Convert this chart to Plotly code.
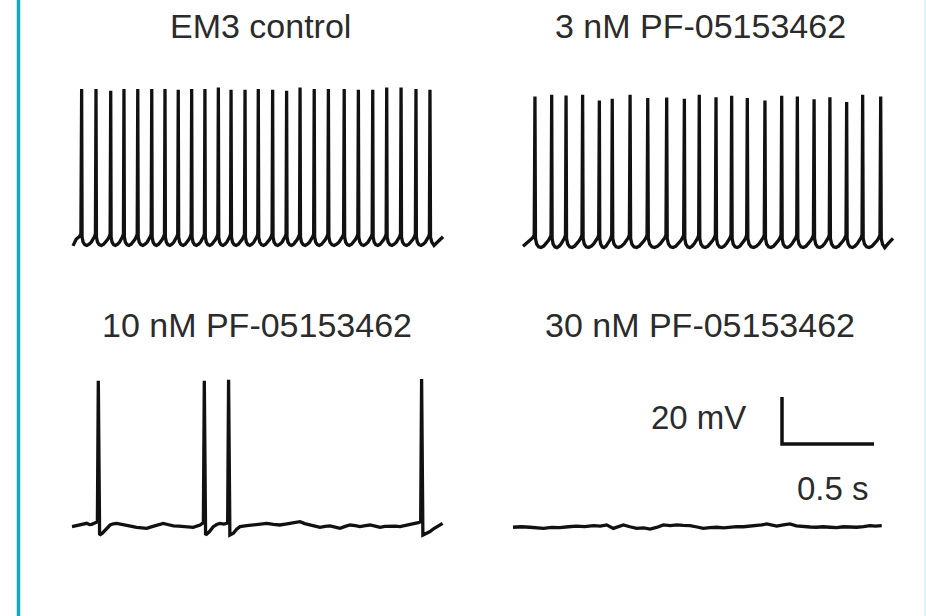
import plotly.graph_objects as go

# ---------------- data (time in s, membrane potential in mV re. rest) ----------------
ctrl_spike_t = [0.047, 0.125, 0.205, 0.277, 0.352, 0.428, 0.500, 0.572, 0.645, 0.717,
                0.790, 0.859, 0.935, 1.007, 1.085, 1.161, 1.234, 1.311, 1.388, 1.474,
                1.551, 1.629, 1.705, 1.783, 1.864, 1.940]
ctrl_spike_mv = [64.3, 64.3, 63.5, 64.3, 64.3, 64.3, 64.3, 63.9, 64.3, 64.3,
                 64.9, 63.9, 63.9, 64.3, 63.9, 63.5, 64.9, 64.3, 64.3, 64.3,
                 63.9, 63.9, 64.9, 64.9, 64.3, 63.9]
ctrl_isi_mv = [1.2, -0.9, -2.0, -2.3, -1.8, -0.9, 0.3, 1.5, 2.6]

pf3_spike_t = [0.065, 0.156, 0.234, 0.324, 0.415, 0.485, 0.582, 0.678, 0.781, 0.877,
               0.958, 1.049, 1.134, 1.219, 1.315, 1.406, 1.491, 1.582, 1.668, 1.759,
               1.846, 1.944]
pf3_spike_mv = [61.5, 62.2, 61.9, 62.2, 59.8, 60.5, 62.2, 60.8, 61.1, 60.5,
                62.2, 61.2, 61.8, 60.8, 59.8, 61.8, 61.5, 60.3, 61.2, 59.1,
                62.2, 61.5]
pf3_isi_mv = [1.0, -1.3, -2.5, -2.8, -2.2, -1.1, 0.2, 1.4, 2.6]

isi_frac = [0.03, 0.10, 0.22, 0.36, 0.52, 0.67, 0.80, 0.90, 0.96]

pf10_spike_t = [0.143, 0.719, 0.851, 1.900]
pf10_spike_mv = [61.4, 61.4, 61.8, 62.1]
pf10_base_t = [0.000, 0.022, 0.043, 0.062, 0.080, 0.095, 0.107, 0.124, 0.138, 0.150,
               0.165, 0.180, 0.195, 0.207, 0.225, 0.243, 0.270, 0.297, 0.325, 0.351,
               0.380, 0.406, 0.435, 0.460, 0.496, 0.525, 0.551, 0.580, 0.605, 0.635,
               0.659, 0.696, 0.714, 0.726, 0.745, 0.768, 0.786, 0.804, 0.825, 0.841,
               0.846, 0.858, 0.877, 0.895, 0.913, 0.950, 0.986, 1.020, 1.058, 1.095,
               1.130, 1.160, 1.185, 1.210, 1.239, 1.265, 1.293, 1.320, 1.348, 1.375,
               1.402, 1.430, 1.457, 1.485, 1.511, 1.540, 1.565, 1.595, 1.620, 1.648,
               1.674, 1.700, 1.728, 1.755, 1.783, 1.810, 1.837, 1.860, 1.882, 1.895,
               1.907, 1.925, 1.946, 1.965, 1.982, 2.014]
pf10_base_mv = [-0.7, -0.3, 0.0, 0.4, 0.7, 0.2, 0.3, 0.9, 1.4, -4.3,
                -3.5, -2.4, -1.0, 0.0, 0.5, 0.7, 0.3, 0.0, -0.6, -1.0,
                -1.2, -1.4, -0.7, 0.0, 0.7, 0.1, -0.4, -0.5, -0.7, -0.9,
                -1.0, 0.0, 1.0, -4.3, -3.0, -0.7, 0.2, 0.7, 0.4, 0.7,
                1.2, -4.3, -3.5, -1.8, -0.7, -0.3, 0.0, 0.3, 0.7, 0.3,
                0.0, 0.4, 0.7, 1.0, 1.4, 0.6, 0.0, -0.6, -1.0, -0.6,
                -0.4, -0.9, -1.4, -0.6, 0.0, -0.3, -0.7, -0.3, 0.0, -0.5,
                -1.0, -0.6, -0.4, -0.5, -0.7, -0.3, 0.0, 0.5, 1.0, 1.4,
                -4.3, -3.6, -2.8, -1.6, -0.7, 0.7]

pf30_t = [0.000, 0.045, 0.092, 0.130, 0.165, 0.210, 0.255, 0.300, 0.346, 0.390,
          0.437, 0.475, 0.509, 0.545, 0.572, 0.600, 0.635, 0.672, 0.710, 0.745,
          0.780, 0.817, 0.855, 0.890, 0.925, 0.962, 1.000, 1.034, 1.070, 1.107,
          1.145, 1.179, 1.215, 1.252, 1.290, 1.324, 1.352, 1.379, 1.405, 1.433,
          1.470, 1.505, 1.540, 1.578, 1.615, 1.650, 1.685, 1.723, 1.760, 1.795,
          1.830, 1.868, 1.905, 1.940, 1.970, 2.004]
pf30_mv = [-0.1, 0.1, -0.1, -0.3, -0.6, -0.2, -0.3, 0.1, 0.4, 0.2,
           0.6, 0.4, 0.9, -0.6, 0.0, 0.9, 0.1, -0.6, -0.4, -0.9,
           -0.2, 0.9, 0.6, 0.9, 0.7, 0.6, 0.0, -0.6, -0.3, -0.1,
           -0.4, -0.1, 0.2, 0.1, 0.3, 0.6, 0.9, 1.3, 0.8, 0.4,
           0.9, 1.3, 0.5, 0.1, 0.0, -0.1, 0.1, -0.1, -0.3, 0.1,
           0.0, -0.1, 0.2, 0.6, 0.4, 0.6]

titles = ["EM3 control", "3 nM PF-05153462", "10 nM PF-05153462", "30 nM PF-05153462"]
scale_mv = 20
scale_s = 0.5
scale_labels = ["20 mV", "0.5 s"]

# ---------------- layout constants (pixels) ----------------
W, H = 926, 616
PX_PER_S = 184.0
PX_PER_MV = 2.35
# (domain left, right, top, bottom, origin x px (t=0), origin y px (V=0))
panels = [
    (40, 470, 60, 290, 73, 240),
    (480, 920, 60, 290, 523, 241),
    (40, 470, 350, 600, 72, 525),
    (480, 920, 350, 600, 513, 527),
]
TRACE_COLOR = "#111111"
TEXT_COLOR = "#2b2b2b"
FONT = "Liberation Sans, Arial, sans-serif"


def firing_trace(spk_t, spk_mv, isi_mv, start_mv, end_t, end_mv):
    t = [0.0, spk_t[0] - 0.03, spk_t[0] - 0.012, spk_t[0] - 0.004]
    v = [start_mv, isi_mv[-3], isi_mv[-2], isi_mv[-1]]
    n = len(spk_t)
    for i in range(n):
        t.append(spk_t[i])
        v.append(spk_mv[i])
        if i + 1 < n:
            isi = spk_t[i + 1] - spk_t[i]
            for f, m in zip(isi_frac, isi_mv):
                t.append(spk_t[i] + f * isi)
                v.append(m)
        else:
            t += [spk_t[i] + 0.003, spk_t[i] + 0.010, spk_t[i] + 0.022, spk_t[i] + 0.040, end_t]
            v += [isi_mv[0], isi_mv[1], isi_mv[3], isi_mv[5], end_mv]
    return t, v


def merge_spikes(base_t, base_mv, spk_t, spk_mv):
    pts = sorted(list(zip(base_t, base_mv)) + list(zip(spk_t, spk_mv)))
    return [p[0] for p in pts], [p[1] for p in pts]


traces = [
    firing_trace(ctrl_spike_t, ctrl_spike_mv, ctrl_isi_mv, -2.5, 2.011, 1.4),
    firing_trace(pf3_spike_t, pf3_spike_mv, pf3_isi_mv, -2.2, 2.011, 1.1),
    merge_spikes(pf10_base_t, pf10_base_mv, pf10_spike_t, pf10_spike_mv),
    (pf30_t, pf30_mv),
]

fig = go.Figure()
layout_axes = {}
for k, ((L, R, T, B, ox, oy), (tt, vv)) in enumerate(zip(panels, traces)):
    sfx = "" if k == 0 else str(k + 1)
    fig.add_trace(go.Scatter(x=tt, y=vv, mode="lines",
                             line=dict(color=TRACE_COLOR, width=3.3),
                             xaxis="x" + sfx, yaxis="y" + sfx,
                             showlegend=False, hoverinfo="skip"))
    layout_axes["xaxis" + sfx] = dict(
        domain=[L / W, R / W], range=[(L - ox) / PX_PER_S, (R - ox) / PX_PER_S],
        visible=False, fixedrange=True, anchor="y" + sfx)
    layout_axes["yaxis" + sfx] = dict(
        domain=[1 - B / H, 1 - T / H], range=[(oy - B) / PX_PER_MV, (oy - T) / PX_PER_MV],
        visible=False, fixedrange=True, anchor="x" + sfx)

# scale bar in panel 4 coordinates
ox4, oy4 = panels[3][4], panels[3][5]
sb_t0 = (782 - ox4) / PX_PER_S
sb_v0 = (oy4 - 444) / PX_PER_MV
fig.add_trace(go.Scatter(x=[sb_t0, sb_t0, sb_t0 + scale_s],
                         y=[sb_v0 + scale_mv, sb_v0, sb_v0],
                         mode="lines", line=dict(color=TRACE_COLOR, width=3.5),
                         xaxis="x4", yaxis="y4", showlegend=False, hoverinfo="skip"))

annotations = []
title_pos = [(260, 26), (700, 26), (257, 325), (700, 325)]
for txt, (cx, cy) in zip(titles, title_pos):
    annotations.append(dict(text=txt, x=cx / W, y=1 - cy / H, xref="paper", yref="paper",
                            xanchor="center", yanchor="middle", showarrow=False,
                            font=dict(family=FONT, size=34, color=TEXT_COLOR)))
for txt, (rx, cy) in zip(scale_labels, [(748, 417), (871, 489)]):
    annotations.append(dict(text=txt, x=rx / W, y=1 - cy / H, xref="paper", yref="paper",
                            xanchor="right", yanchor="middle", showarrow=False,
                            font=dict(family=FONT, size=33, color=TEXT_COLOR)))

shapes = [
    dict(type="line", xref="paper", yref="paper", x0=18.5 / W, x1=18.5 / W, y0=0, y1=1,
         line=dict(color="#16a8c0", width=3.5)),
    dict(type="line", xref="paper", yref="paper", x0=925 / W, x1=925 / W, y0=0, y1=1,
         line=dict(color="#cdeef2", width=1.2)),
]

fig.update_layout(width=W, height=H, margin=dict(l=0, r=0, t=0, b=0),
                  paper_bgcolor="white", plot_bgcolor="white",
                  annotations=annotations, shapes=shapes, **layout_axes)
fig.write_html("out.html", config={"displayModeBar": False})
